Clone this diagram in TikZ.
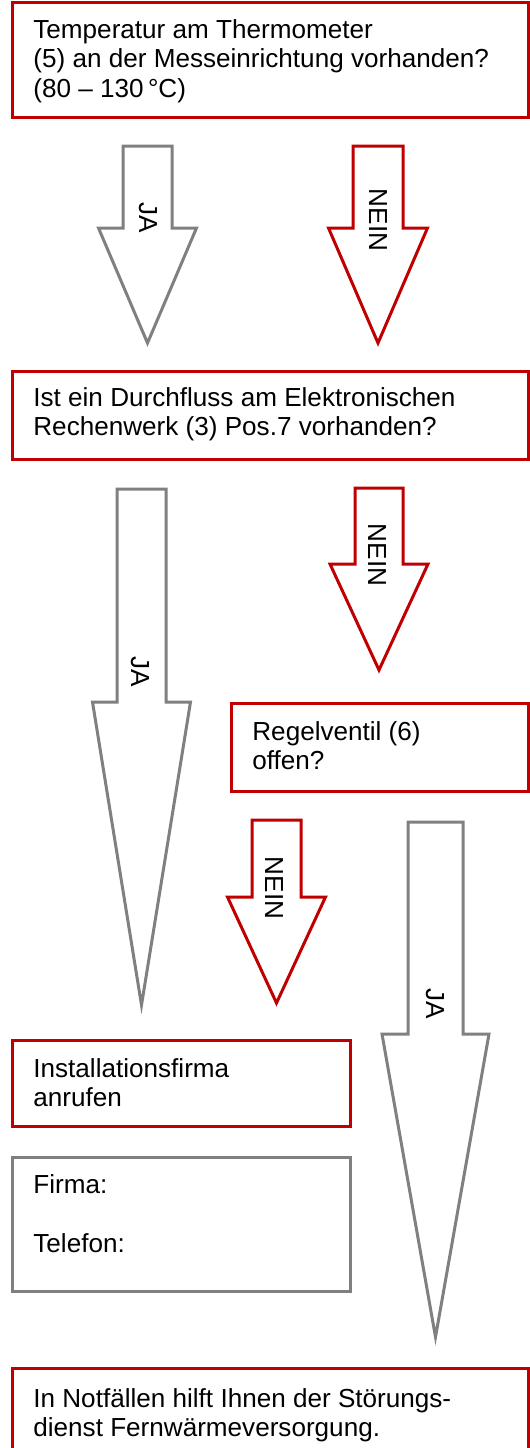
\documentclass[tikz,border=0pt]{standalone}
\usepackage{fontspec}
\setmainfont{Liberation Sans}
\definecolor{rd}{HTML}{C00000}
\definecolor{gr}{HTML}{808080}
\newcommand{\dnarrow}[7]{% #1 colour, #2 centre x, #3 half shaft, #4 top, #5 head y, #6 half head, #7 tip y
  \draw[arrowshape,draw=#1] (#2-#3,#4) -- (#2+#3,#4) -- (#2+#3,#5) -- (#2+#6,#5) -- (#2,#7) -- (#2-#6,#5) -- (#2-#3,#5) -- cycle;}
\begin{document}
\begin{tikzpicture}[x=0.5pt,y=-0.5pt,
  arrowshape/.style={line width=1.5pt, line join=miter},
  boxbase/.style={rectangle, line width=1.5pt, anchor=north west, inner sep=0pt, outer sep=0pt},
  rbox/.style={boxbase, draw=rd},
  gbox/.style={boxbase, draw=gr},
  txt/.style={anchor=north west, inner sep=0pt, align=left, font=\fontsize{13.05}{14.6}\selectfont},
  lbl/.style={rotate=-90, inner sep=0pt, font=\fontsize{13.05}{14.6}\selectfont}]
\useasboundingbox (0,0) rectangle (530,1448);
% boxes
\node[rbox, minimum width=258pt, minimum height=57.5pt] (q1) at (12,2) {};
\node[txt] (q1t) at (33,19.3) {Temperatur am Thermometer\\(5) an der Messeinrichtung vorhanden?\\(80 – 130\,°C)};
\node[rbox, minimum width=258pt, minimum height=44pt] (q2) at (12,371) {};
\node[txt] (q2t) at (33,387.3) {Ist ein Durchfluss am Elektronischen\\Rechenwerk (3) Pos.7 vorhanden?};
\node[rbox, minimum width=148.5pt, minimum height=44pt] (q3) at (231,703) {};
\node[txt] (q3t) at (252,721.3) {Regelventil (6)\\offen?};
\node[rbox, minimum width=169pt, minimum height=43pt] (a1) at (12,1040) {};
\node[txt] (a1t) at (33,1058.3) {Installationsfirma\\anrufen};
\node[gbox, minimum width=169pt, minimum height=67pt] (a2) at (12,1157) {};
\node[txt] (a2t) at (33,1174.3) {Firma:\\[14.6pt]Telefon:};
\node[rbox, minimum width=258pt, minimum height=50pt] (a3) at (12,1368) {};
\node[txt] (a3t) at (33,1388.3) {In Notfällen hilft Ihnen der Störungs-\\dienst Fernwärmeversorgung.};
% arrows
\dnarrow{gr}{147.5}{24.5}{146}{228}{49}{343}
\node[lbl] (j1) at (148,218) {JA};
\dnarrow{rd}{378}{25}{146}{228}{49.5}{343}
\node[lbl] (n1) at (378,220) {NEIN};
\dnarrow{gr}{141.5}{24.5}{489}{702}{49}{1005}
\node[lbl] (j2) at (140,672) {JA};
\dnarrow{rd}{379}{24}{488}{564}{49}{670}
\node[lbl] (n2) at (377,555) {NEIN};
\dnarrow{rd}{276.5}{24.5}{820}{897}{49}{1003}
\node[lbl] (n3) at (274,888) {NEIN};
\dnarrow{gr}{435.5}{27.5}{822}{1034}{53.5}{1337}
\node[lbl] (j3) at (435,1004) {JA};
\end{tikzpicture}
\end{document}
